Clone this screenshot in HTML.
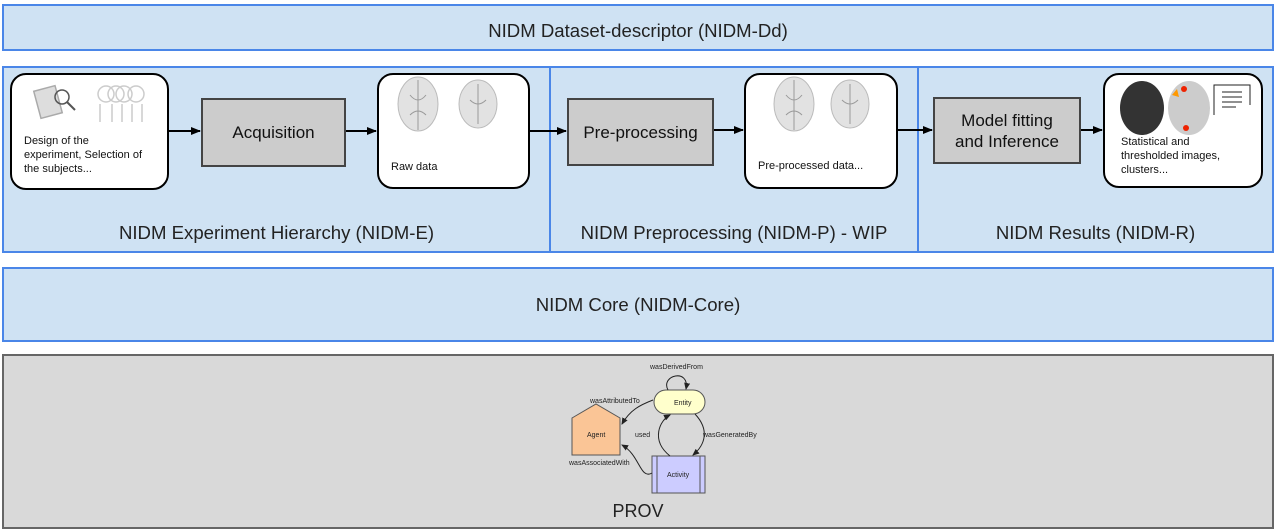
<!DOCTYPE html>
<html><head><meta charset="utf-8"><style>
body{margin:0;width:1276px;height:530px;background:#fff;position:relative;font-family:"Liberation Sans",Arial,sans-serif;overflow:hidden}
.a{position:absolute;box-sizing:border-box}
.bar{background:#cfe2f3;border:2px solid #4a86e8}
.lbl{position:absolute;font-size:18.6px;color:#222;text-align:center}
.node{background:#fff;border:2px solid #000;border-radius:16px}
.proc{background:#ccc;border:2px solid #444;display:flex;align-items:center;justify-content:center;text-align:center;font-size:17px;line-height:21px;color:#111}
.t{position:absolute;font-size:11px;line-height:14px;color:#111}
</style></head><body>
<div class="a bar" style="left:2px;top:4px;width:1272px;height:47px"></div>
<div class="lbl" style="left:0;width:1276px;top:20px">NIDM Dataset-descriptor (NIDM-Dd)</div>

<div class="a bar" style="left:2px;top:66px;width:549px;height:187px"></div>
<div class="a bar" style="left:549px;top:66px;width:370px;height:187px"></div>
<div class="a bar" style="left:917px;top:66px;width:357px;height:187px"></div>
<div class="lbl" style="left:2px;width:549px;top:222px">NIDM Experiment Hierarchy (NIDM-E)</div>
<div class="lbl" style="left:549px;width:370px;top:222px">NIDM Preprocessing (NIDM-P) - WIP</div>
<div class="lbl" style="left:917px;width:357px;top:222px">NIDM Results (NIDM-R)</div>

<div class="a bar" style="left:2px;top:267px;width:1272px;height:75px"></div>
<div class="lbl" style="left:0;width:1276px;top:294px">NIDM Core (NIDM-Core)</div>

<div class="a" style="left:2px;top:354px;width:1272px;height:175px;background:#d9d9d9;border:2px solid #666"></div>

<div class="a node" style="left:10px;top:73px;width:159px;height:117px"></div>
<div class="t" style="left:24px;top:134px">Design of the<br>experiment, Selection of<br>the subjects...</div>
<div class="a proc" style="left:201px;top:98px;width:145px;height:69px">Acquisition</div>
<div class="a node" style="left:377px;top:73px;width:153px;height:116px"></div>
<div class="t" style="left:391px;top:160px">Raw data</div>
<div class="a proc" style="left:567px;top:98px;width:147px;height:68px">Pre-processing</div>
<div class="a node" style="left:744px;top:73px;width:154px;height:116px"></div>
<div class="t" style="left:758px;top:159px">Pre-processed data...</div>
<div class="a proc" style="left:933px;top:97px;width:148px;height:67px">Model fitting<br>and Inference</div>
<div class="a node" style="left:1103px;top:73px;width:160px;height:115px"></div>
<div class="t" style="left:1121px;top:135px">Statistical and<br>thresholded images,<br>clusters...</div>

<svg class="a" style="left:0;top:0" width="1276" height="530">
<defs><marker id="ar" markerWidth="10" markerHeight="8" refX="9" refY="4" orient="auto" markerUnits="userSpaceOnUse"><path d="M0,0L10,4L0,8z" fill="#000"/></marker>
<marker id="sa" markerWidth="7" markerHeight="6" refX="6" refY="3" orient="auto" markerUnits="userSpaceOnUse"><path d="M0,0L7,3L0,6z" fill="#222"/></marker></defs>
<g stroke="#000" stroke-width="2" marker-end="url(#ar)">
<line x1="169" y1="131" x2="200" y2="131"/><line x1="346" y1="131" x2="376" y2="131"/>
<line x1="530" y1="131" x2="566" y2="131"/><line x1="714" y1="130" x2="743" y2="130"/>
<line x1="898" y1="130" x2="932" y2="130"/><line x1="1081" y1="130" x2="1102" y2="130"/>
</g>
<g fill="none" stroke="#aaa" stroke-width="1.5">
<rect x="37" y="88" width="22" height="28" fill="#ddd" transform="rotate(-15 48 102)"/>
<circle cx="62" cy="97" r="7" stroke="#555"/><line x1="67" y1="102" x2="75" y2="110" stroke="#555" stroke-width="2"/>
<g stroke="#ccc"><circle cx="106" cy="94" r="8"/><circle cx="116" cy="94" r="8"/><circle cx="124" cy="94" r="8"/><circle cx="136" cy="94" r="8"/>
<path d="M100 104v18M112 104v18M122 104v18M132 104v18M142 104v18"/></g>
</g>
<g fill="#e2e2e2" stroke="#bbb">
<ellipse cx="418" cy="104" rx="20" ry="27"/><ellipse cx="478" cy="104" rx="19" ry="24"/>
<ellipse cx="794" cy="104" rx="20" ry="27"/><ellipse cx="850" cy="104" rx="19" ry="24"/>
</g>
<g stroke="#999" fill="none"><path d="M418 80v50M410 95q8 10 16 0M410 115q8 -8 16 0M478 84v40M470 100q8 8 16 0M794 80v50M786 95q8 10 16 0M786 115q8 -8 16 0M850 84v40M842 100q8 8 16 0"/></g>
<ellipse cx="1142" cy="108" rx="22" ry="27" fill="#333"/>
<ellipse cx="1189" cy="108" rx="21" ry="27" fill="#ccc"/>
<path d="M1172 95l5-6 2 8z" fill="#f90"/><circle cx="1184" cy="89" r="3" fill="#e20"/><circle cx="1186" cy="128" r="3" fill="#e20"/>
<g stroke="#222" stroke-width="1" fill="none"><path d="M1214 115V85h36v20"/><path d="M1222 92h20M1222 97h20M1222 102h20M1222 107h14"/></g>

<path d="M572 418L596 404L620 418V455H572z" fill="#fac596" stroke="#555"/>
<rect x="654" y="390" width="51" height="24" rx="12" fill="#ffffcc" stroke="#555"/>
<rect x="652" y="456" width="53" height="37" fill="#ccccff" stroke="#555"/>
<line x1="657" y1="456" x2="657" y2="493" stroke="#555"/><line x1="700" y1="456" x2="700" y2="493" stroke="#555"/>
<g fill="none" stroke="#222" stroke-width="1" marker-end="url(#sa)">
<path d="M668 390C660 375 690 368 686 389"/>
<path d="M653 400C640 405 630 410 622 424"/>
<path d="M695 414C710 430 705 445 693 455"/>
<path d="M670 456C650 440 660 420 670 415"/>
<path d="M652 473C640 480 640 455 622 445"/>
</g>
<g font-size="7" fill="#222" font-family="Liberation Sans,sans-serif">
<text x="650" y="369">wasDerivedFrom</text>
<text x="590" y="403">wasAttributedTo</text>
<text x="674" y="405">Entity</text>
<text x="587" y="437">Agent</text>
<text x="635" y="437">used</text>
<text x="703" y="437">wasGeneratedBy</text>
<text x="569" y="465">wasAssociatedWith</text>
<text x="667" y="477">Activity</text>
</g>
<text x="638" y="517" font-size="18" text-anchor="middle" fill="#222" font-family="Liberation Sans,sans-serif">PROV</text>
</svg>
</body></html>
